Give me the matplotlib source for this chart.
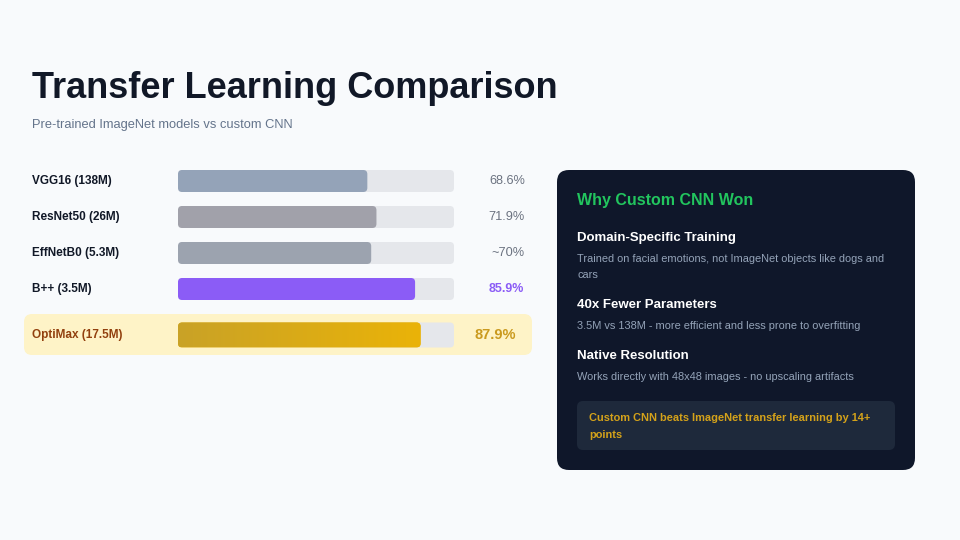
import numpy as np
import matplotlib
matplotlib.use("Agg")
import matplotlib.pyplot as plt
from matplotlib.patches import FancyBboxPatch

plt.rcParams['font.family'] = ['Liberation Sans', 'DejaVu Sans']

# data
models = ["VGG16 (138M)", "ResNet50 (26M)", "EffNetB0 (5.3M)", "B++ (3.5M)", "OptiMax (17.5M)"]
accuracy = [68.6, 71.9, 70.0, 85.9, 87.9]
value_labels = ["68.6%", "71.9%", "~70%", "85.9%", "87.9%"]
bar_colors = ["#94a3b8", "#a1a1aa", "#9ca3af", "#8b5cf6", "#eab308"]

reasons = ["Domain-Specific Training", "40x Fewer Parameters", "Native Resolution"]
reason_text = ["Trained on facial emotions, not ImageNet objects like dogs and\ncars",
               "3.5M vs 138M - more efficient and less prone to overfitting",
               "Works directly with 48x48 images - no upscaling artifacts"]
callout = "Custom CNN beats ImageNet transfer learning by 14+\npoints"

W, H = 960, 540
fig = plt.figure(figsize=(9.6, 5.4), dpi=100)
fig.patch.set_facecolor("#f8fafc")

# pixel space canvas for the page layout
ax = fig.add_axes([0, 0, 1, 1])
ax.set_xlim(0, W)
ax.set_ylim(H, 0)
ax.axis("off")


def rbox(a, x, y, w, h, r, color, z=1, aspect=1.0):
    p = FancyBboxPatch((x, y), w, h, boxstyle=f"round,pad=0,rounding_size={r}",
                       facecolor=color, edgecolor="none", zorder=z, mutation_aspect=aspect)
    a.add_patch(p)
    return p


ax.text(32, 88, "Transfer Learning Comparison", fontsize=26, fontweight="bold",
        color="#111827", va="center")
ax.text(32, 125, "Pre-trained ImageNet models vs custom CNN", fontsize=9.3,
        color="#64748b", va="center")

row_y = [181, 217, 253, 289, 335]

# highlight row for the winner
rbox(ax, 24, 314, 508, 41, 8, "#fef3c7", z=0)

for i, name in enumerate(models):
    best = i == len(models) - 1
    ax.text(32, row_y[i], name, fontsize=8.5, fontweight="bold",
            color="#92400e" if best else "#111827", va="center")
    if best:
        ax.text(516, row_y[i], value_labels[i], fontsize=10.5, fontweight="bold",
                color="#ca9a1f", va="center", ha="right")
    elif i == 3:
        ax.text(524, row_y[i], value_labels[i], fontsize=9, fontweight="bold",
                color=bar_colors[i], va="center", ha="right")
    else:
        ax.text(525, row_y[i], value_labels[i], fontsize=9.2,
                color="#6b7280", va="center", ha="right")

# bar axes: x in percent, y in pixels
x0, x1 = 178, 454
bax = fig.add_axes([x0 / W, 0, (x1 - x0) / W, 1])
bax.set_xlim(0, 100)
bax.set_ylim(H, 0)
bax.axis("off")
bax.patch.set_alpha(0)
asp = (x1 - x0) / 100.0

for i, v in enumerate(accuracy):
    best = i == len(models) - 1
    h = 25 if best else 22
    y = row_y[i] - h / 2
    rbox(bax, 0, y, 100, h, 1.5, "#e5e7eb", z=1, aspect=asp)
    bar = rbox(bax, 0, y, v, h, 1.5, bar_colors[i], z=2, aspect=asp)
    if best:
        grad = np.linspace(0, 1, 256).reshape(1, -1)
        cmap = matplotlib.colors.LinearSegmentedColormap.from_list("gold", ["#c9a227", "#eab308"])
        im = bax.imshow(grad, extent=(0, v, y + h, y), aspect="auto", cmap=cmap, zorder=3)
        im.set_clip_path(bar)
bax.set_xlim(0, 100)
bax.set_ylim(H, 0)

# right side panel
rbox(ax, 557, 170, 358, 300, 12, "#0f172a", z=1)
ax.text(577, 201, "Why Custom CNN Won", fontsize=11.5, fontweight="bold",
        color="#22c55e", va="center", zorder=2)
head_y = [238, 305, 356]
desc_y = [267, 326, 377]
for hy, dy, head, desc in zip(head_y, desc_y, reasons, reason_text):
    ax.text(577, hy, head, fontsize=9.5, fontweight="bold", color="#ffffff",
            va="center", zorder=2)
    ax.text(577, dy, desc, fontsize=7.9, color="#94a3b8", va="center",
            linespacing=1.8, zorder=2)

rbox(ax, 577, 401, 318, 49, 6, "#1e293b", z=2)
ax.text(589, 426.5, callout, fontsize=7.9, fontweight="bold", color="#d4a21a",
        va="center", linespacing=1.9, zorder=3)

fig.savefig("out.png", dpi=100, facecolor=fig.get_facecolor())
